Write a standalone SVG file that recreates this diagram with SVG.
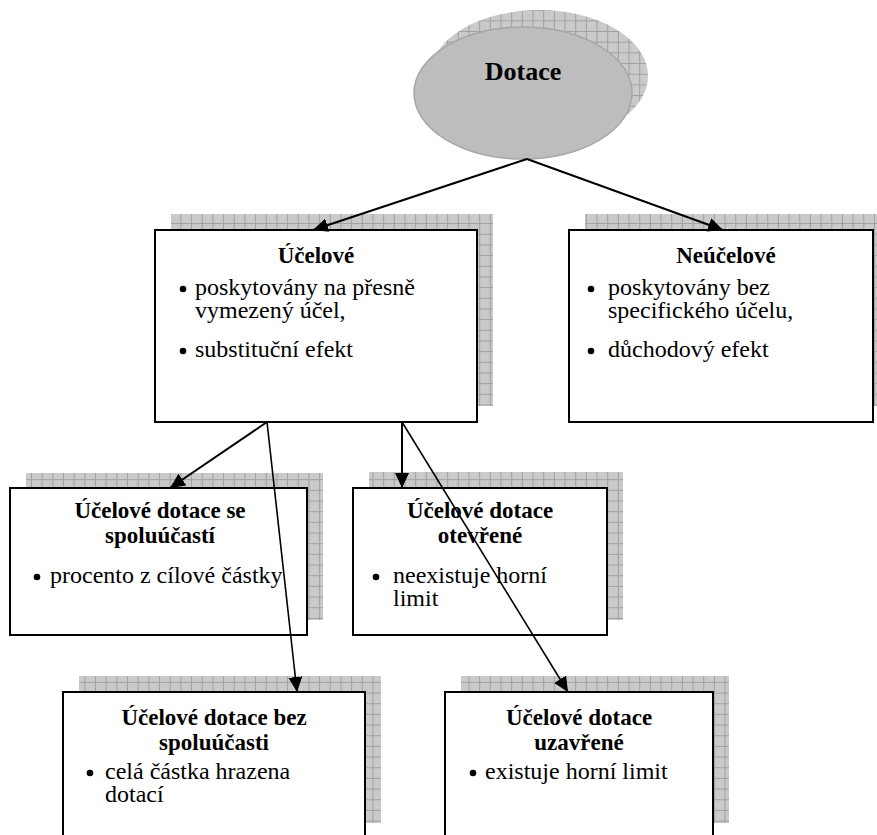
<svg xmlns="http://www.w3.org/2000/svg" width="877" height="835" viewBox="0 0 877 835">
  <style>
    .box { fill: #ffffff; stroke: #000000; stroke-width: 2; }
    .shadow { fill: url(#grid); stroke: none; }
    .title { font-family: "Liberation Serif", "Times New Roman", serif; font-weight: bold; font-size: 23px; fill: #000; text-anchor: middle; }
    .body { font-family: "Liberation Serif", "Times New Roman", serif; font-size: 24px; fill: #000; }
    .bullet { fill: #000; }
    .conn { stroke: #000; stroke-width: 2; fill: none; marker-end: url(#arrow); }
    .thin { stroke-width: 1.6; }
  </style>
  <defs>
    <pattern id="chk" patternUnits="userSpaceOnUse" width="2" height="2">
      <rect width="2" height="2" fill="#d6d6d6"/>
      <rect width="1" height="1" fill="#bfbfbf"/>
      <rect x="1" y="1" width="1" height="1" fill="#bfbfbf"/>
    </pattern>
    <pattern id="grid" patternUnits="userSpaceOnUse" width="10.67" height="10.67">
      <rect width="10.67" height="10.67" fill="url(#chk)"/>
      <path d="M10.17 0V10.67M0 10.17H10.67" stroke="#a0a0a0" stroke-width="1" fill="none"/>
    </pattern>
    <marker id="arrow" viewBox="0 0 15 15" refX="15" refY="7.5" markerWidth="15" markerHeight="15" markerUnits="userSpaceOnUse" orient="auto">
      <path d="M0 0.5L15 7.5L0 14.5Z" fill="#000"/>
    </marker>
  </defs>

  <g id="node-dotace">
    <ellipse cx="539" cy="76" rx="109" ry="66" class="shadow"/>
    <ellipse cx="523" cy="93" rx="109" ry="66" fill="#bdbdbd" stroke="#a6a6a6" stroke-width="1.5"/>
    <text x="523" y="80" class="title" style="font-size:26px">Dotace</text>
  </g>

  <g id="node-ucelove">
    <rect x="171" y="214" width="322" height="192" class="shadow"/>
    <rect x="155" y="230" width="322" height="192" class="box"/>
    <text x="316" y="263" class="title">Účelové</text>
    <circle cx="183" cy="289" r="3.3" class="bullet"/>
    <text x="195" y="295" class="body">poskytovány na přesně</text>
    <text x="195" y="318" class="body">vymezený účel,</text>
    <circle cx="183" cy="351" r="3.3" class="bullet"/>
    <text x="195" y="357" class="body">substituční efekt</text>
  </g>

  <g id="node-neucelove">
    <rect x="585" y="214" width="304" height="192" class="shadow"/>
    <rect x="569" y="230" width="304" height="192" class="box"/>
    <text x="726" y="263" class="title">Neúčelové</text>
    <circle cx="591" cy="289" r="3.3" class="bullet"/>
    <text x="608" y="295" class="body">poskytovány bez</text>
    <text x="608" y="318" class="body">specifického účelu,</text>
    <circle cx="591" cy="351" r="3.3" class="bullet"/>
    <text x="608" y="357" class="body">důchodový efekt</text>
  </g>

  <g id="node-spoluucast">
    <rect x="26" y="473" width="297" height="147" class="shadow"/>
    <rect x="10" y="488" width="297" height="147" class="box"/>
    <text x="160" y="518" class="title">Účelové dotace se</text>
    <text x="160" y="543" class="title">spoluúčastí</text>
    <circle cx="37" cy="577" r="3.3" class="bullet"/>
    <text x="50" y="583" class="body">procento z cílové částky</text>
  </g>

  <g id="node-otevrene">
    <rect x="369" y="472" width="254" height="148" class="shadow"/>
    <rect x="353" y="488" width="254" height="147" class="box"/>
    <text x="480" y="518" class="title">Účelové dotace</text>
    <text x="480" y="543" class="title">otevřené</text>
    <circle cx="376" cy="577" r="3.3" class="bullet"/>
    <text x="393" y="583" class="body">neexistuje horní</text>
    <text x="393" y="606" class="body">limit</text>
  </g>

  <g id="node-bez-spoluucasti">
    <rect x="79" y="676" width="302" height="147" class="shadow"/>
    <rect x="63" y="692" width="302" height="148" class="box"/>
    <text x="214" y="725" class="title">Účelové dotace bez</text>
    <text x="214" y="750" class="title">spoluúčasti</text>
    <circle cx="90" cy="773" r="3.3" class="bullet"/>
    <text x="105" y="779" class="body">celá částka hrazena</text>
    <text x="105" y="802" class="body">dotací</text>
  </g>

  <g id="node-uzavrene">
    <rect x="461" y="676" width="268" height="147" class="shadow"/>
    <rect x="445" y="692" width="268" height="148" class="box"/>
    <text x="579" y="725" class="title">Účelové dotace</text>
    <text x="579" y="750" class="title">uzavřené</text>
    <circle cx="473" cy="773" r="3.3" class="bullet"/>
    <text x="485" y="779" class="body">existuje horní limit</text>
  </g>

  <g id="connectors">
    <line x1="527" y1="159" x2="313" y2="230" class="conn"/>
    <line x1="527" y1="159" x2="723" y2="230" class="conn"/>
    <line x1="267" y1="422" x2="170" y2="488" class="conn"/>
    <line x1="267" y1="422" x2="297" y2="692" class="conn thin"/>
    <line x1="402" y1="422" x2="402" y2="488" class="conn"/>
    <line x1="402" y1="422" x2="568" y2="692" class="conn thin"/>
  </g>
</svg>
